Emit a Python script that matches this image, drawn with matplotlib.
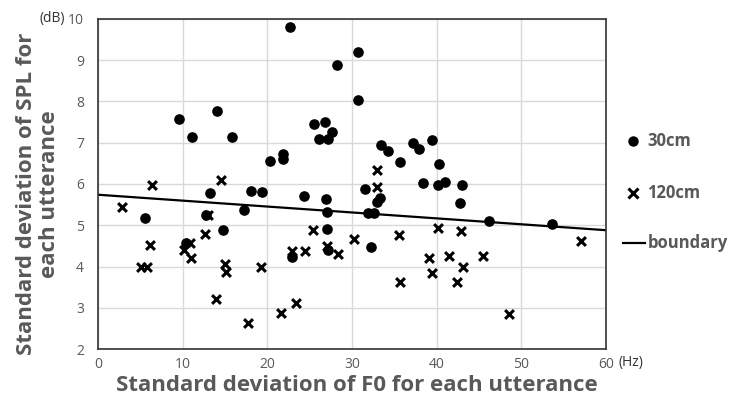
import matplotlib
matplotlib.use("Agg")
import matplotlib.pyplot as plt

# 30cm recordings: (SD of F0 [Hz], SD of SPL [dB])
x_30cm = [22.7, 30.7, 28.2, 30.7, 9.6, 14.0, 11.1, 15.8, 20.3, 25.5, 26.8, 27.6,
          26.1, 27.2, 21.9, 21.9, 33.4, 34.3, 35.7, 37.2, 37.9, 39.4, 40.3, 38.4,
          40.2, 41.0, 43.0, 42.8, 46.2, 53.6, 19.4, 18.1, 13.2, 17.2, 5.5, 12.8,
          14.8, 10.4, 24.3, 26.9, 27.1, 27.1, 31.5, 33.3, 33.0, 31.9, 32.6, 32.2,
          22.9, 27.2]
y_30cm = [9.80, 9.20, 8.88, 8.04, 7.58, 7.77, 7.13, 7.15, 6.56, 7.45, 7.51, 7.25,
          7.08, 7.08, 6.73, 6.60, 6.94, 6.81, 6.54, 7.00, 6.86, 7.07, 6.49, 6.03,
          5.97, 6.05, 5.97, 5.55, 5.10, 5.04, 5.80, 5.83, 5.77, 5.37, 5.18, 5.25,
          4.88, 4.57, 5.70, 5.64, 5.32, 4.91, 5.88, 5.67, 5.56, 5.30, 5.30, 4.48,
          4.24, 4.40]

# 120cm recordings
x_120cm = [2.8, 6.4, 14.5, 6.1, 5.1, 5.8, 10.9, 10.2, 11.0, 12.6, 13.0, 15.0,
           15.1, 19.3, 13.9, 17.7, 21.6, 23.4, 22.9, 24.5, 25.4, 27.1, 28.4, 30.2,
           32.9, 32.9, 35.5, 35.7, 40.1, 39.1, 39.4, 41.4, 42.9, 43.1, 42.4, 45.5,
           48.6, 57.0]
y_120cm = [5.45, 5.98, 6.10, 4.52, 4.00, 3.98, 4.56, 4.40, 4.21, 4.78, 5.26, 4.06,
           3.87, 3.99, 3.22, 2.62, 2.88, 3.12, 4.38, 4.38, 4.88, 4.50, 4.30, 4.67,
           5.92, 6.34, 4.76, 3.62, 4.94, 4.21, 3.85, 4.26, 4.87, 4.00, 3.62, 4.25,
           2.86, 4.63]

# boundary line end points
boundary_x = [0, 60]
boundary_y = [5.74, 4.88]

x_ticks = [0, 10, 20, 30, 40, 50, 60]
y_ticks = [2, 3, 4, 5, 6, 7, 8, 9, 10]

gray = "#595959"
plt.rcParams["font.family"] = ["Open Sans", "DejaVu Sans"]

fig = plt.figure(figsize=(7.29, 4.12), dpi=100)
ax = fig.add_axes([0.1344, 0.1529, 0.6969, 0.801])

ax.scatter(x_30cm, y_30cm, s=44, marker="o", color="black", zorder=3)
ax.scatter(x_120cm, y_120cm, s=40, marker="x", color="black", linewidths=2.2, zorder=3)
ax.plot(boundary_x, boundary_y, color="black", lw=1.6, zorder=2)

ax.set_xlim(0, 60)
ax.set_ylim(2, 10)
ax.set_xticks(x_ticks)
ax.set_yticks(y_ticks)
ax.grid(True, color="#d9d9d9", lw=1)
ax.set_axisbelow(True)
for s in ax.spines.values():
    s.set_color("#333333")
    s.set_linewidth(1.2)
ax.tick_params(length=0, labelsize=10, labelcolor=gray)
ax.tick_params(axis="x", pad=6)
ax.tick_params(axis="y", pad=10)

ax.text(-0.064, 1.0, "(dB)", transform=ax.transAxes, ha="right", va="center",
        fontsize=10, color="#333333")
ax.text(1.025, -0.042, "(Hz)", transform=ax.transAxes, ha="left", va="center",
        fontsize=10, color="#333333")

fig.text(0.49, 0.064, "Standard deviation of F0 for each utterance", ha="center",
         va="center", fontsize=16, fontweight="bold", color=gray)
fig.text(0.052, 0.53, "Standard deviation of SPL for\neach utterance", ha="center",
         va="center", rotation=90, fontsize=16, fontweight="bold", color=gray,
         linespacing=1.1)

# legend drawn by hand, outside the axes
leg_x, txt_x = 633 / 729, 647 / 729
fig.lines.append(plt.Line2D([leg_x], [1 - 141 / 412], marker="o", ms=6.5,
                            color="black", ls="none", transform=fig.transFigure))
fig.lines.append(plt.Line2D([leg_x], [1 - 193 / 412], marker="x", ms=6.5, mew=2.2,
                            color="black", ls="none", transform=fig.transFigure))
fig.lines.append(plt.Line2D([623 / 729, 645 / 729], [1 - 243 / 412] * 2,
                            color="black", lw=1.6, transform=fig.transFigure))
for y, lab in [(141, "30cm"), (193, "120cm"), (243, "boundary")]:
    fig.text(txt_x if lab != "boundary" else 648 / 729, 1 - y / 412, lab,
             ha="left", va="center", fontsize=12, fontweight="bold", color=gray)

fig.savefig("out.png", dpi=100)
